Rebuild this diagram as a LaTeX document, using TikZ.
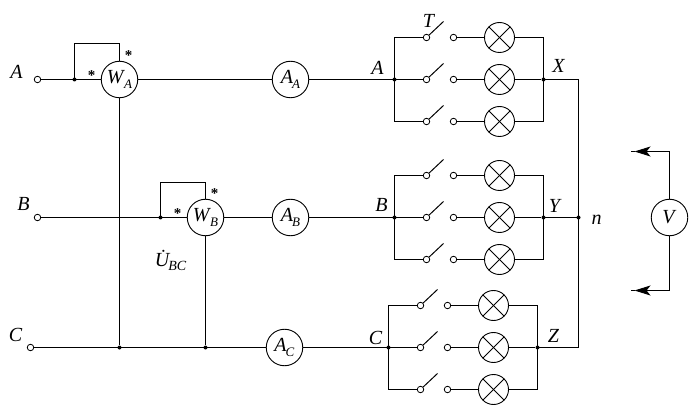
\documentclass[tikz,border=0pt]{standalone}
\usepackage{fontspec}
\setmainfont{Liberation Serif}
\usetikzlibrary{arrows.meta}

\newcommand{\subi}[2]{\textit{#1}\kern-1pt\raisebox{-4.5pt}{\fontsize{13}{13}\selectfont\textit{#2}}}

\tikzset{
  x=1pt,y=-1pt,
  wire/.style={line width=1pt},
  term/.style={circle,draw,line width=.8pt,fill=white,minimum size=6.5pt,inner sep=0pt},
  jdot/.style={circle,fill=black,minimum size=4pt,inner sep=0pt},
  meter/.style={circle,draw,line width=.9pt,minimum size=36.5pt,inner sep=0pt,font=\fontsize{20}{22}\selectfont},
  lamp/.style={circle,draw,line width=.9pt,minimum size=30pt,inner sep=0pt,
    path picture={\draw[line width=.8pt] (path picture bounding box.north west) -- (path picture bounding box.south east);
      \draw[line width=.8pt] (path picture bounding box.north east) -- (path picture bounding box.south west);}},
  lab/.style={inner sep=0pt,font=\fontsize{20}{22}\selectfont\itshape},
  star/.style={inner sep=0pt,font=\fontsize{15}{15}\selectfont\bfseries},
  vtip/.style={-{Stealth[length=16pt,width=10pt,inset=4pt]}}
}

\begin{document}
\begin{tikzpicture}[wire]
  \useasboundingbox (-.5,-.5) rectangle (696.5,416.5);
  % terminals
  \node[term] (ta) at(37,79){};
  \node[term] (tb) at(37,217){};
  \node[term] (tc) at(30,347){};
  % wattmeters and ammeters
  \node[meter] (wa) at(119,79){\subi{W}{A}};
  \node[meter] (wb) at(205,217){\subi{W}{B}};
  \node[meter] (aa) at(290,79){\subi{A}{A}};
  \node[meter] (ab) at(290,217){\subi{A}{B}};
  \node[meter] (ac) at(284,347){\subi{A}{C}};
  \node[meter] (v) at(669,217){\textit{V}};
  % junctions
  \node[jdot] (jwa) at(74,79){};
  \node[jdot] (jwb) at(160,217){};
  \node[jdot] (jc1) at(119,347){};
  \node[jdot] (jc2) at(205,347){};
  \node[jdot] (ja) at(394,79){};
  \node[jdot] (jb) at(394,217){};
  \node[jdot] (jc) at(388,347){};
  \node[jdot] (jx) at(543,79){};
  \node[jdot] (jy) at(543,217){};
  \node[jdot] (jz) at(537,347){};
  \node[jdot] (jn) at(578,217){};
  % loose points
  \coordinate (wat) at(119,43);
  \coordinate (wbt) at(205,182);
  \coordinate (vt) at(634,151);
  \coordinate (vte) at(630,151);
  \coordinate (vb) at(634,290);
  \coordinate (vbe) at(630,290);
  % phase A branches
  \node[term] (a1l) at(426,37){};
  \node[term] (a1r) at(453,37){};
  \node[lamp] (a1) at(499,37){};
  \coordinate (a1e) at(443,21);
  \node[term] (a2l) at(426,79){};
  \node[term] (a2r) at(453,79){};
  \node[lamp] (a2) at(499,79){};
  \coordinate (a2e) at(443,63);
  \node[term] (a3l) at(426,121){};
  \node[term] (a3r) at(453,121){};
  \node[lamp] (a3) at(499,121){};
  \coordinate (a3e) at(443,105);
  % phase B branches
  \node[term] (b1l) at(426,175){};
  \node[term] (b1r) at(453,175){};
  \node[lamp] (b1) at(499,175){};
  \coordinate (b1e) at(443,159);
  \node[term] (b2l) at(426,217){};
  \node[term] (b2r) at(453,217){};
  \node[lamp] (b2) at(499,217){};
  \coordinate (b2e) at(443,201);
  \node[term] (b3l) at(426,259){};
  \node[term] (b3r) at(453,259){};
  \node[lamp] (b3) at(499,259){};
  \coordinate (b3e) at(443,243);
  % phase C branches
  \node[term] (c1l) at(420,305){};
  \node[term] (c1r) at(447,305){};
  \node[lamp] (c1) at(493,305){};
  \coordinate (c1e) at(437,289);
  \node[term] (c2l) at(420,347){};
  \node[term] (c2r) at(447,347){};
  \node[lamp] (c2) at(493,347){};
  \coordinate (c2e) at(437,331);
  \node[term] (c3l) at(420,389){};
  \node[term] (c3r) at(447,389){};
  \node[lamp] (c3) at(493,389){};
  \coordinate (c3e) at(437,373);
  % mains
  \draw (ta) -- (jwa.center) -- (wa) -- (aa) -- (ja.center) -- (a2l);
  \draw (tb) -- (jwb.center) -- (wb) -- (ab) -- (jb.center) -- (b2l);
  \draw (tc) -- (jc1.center) -- (jc2.center) -- (ac) -- (jc.center) -- (c2l);
  % wattmeter leads
  \draw (jwa.center) |- (wat) -- (wa);
  \draw (jwb.center) |- (wbt) -- (wb);
  \draw (wa) -- (jc1);
  \draw (wb) -- (jc2);
  % phase A wiring
  \draw (ja.center) |- (a1l);
  \draw (ja.center) |- (a3l);
  \draw (a1l) -- (a1e);
  \draw (a2l) -- (a2e);
  \draw (a3l) -- (a3e);
  \draw (a1r) -- (a1);
  \draw (a2r) -- (a2);
  \draw (a3r) -- (a3);
  \draw (a1) -| (jx.center);
  \draw (a2) -- (jx);
  \draw (a3) -| (jx.center);
  % phase B wiring
  \draw (jb.center) |- (b1l);
  \draw (jb.center) |- (b3l);
  \draw (b1l) -- (b1e);
  \draw (b2l) -- (b2e);
  \draw (b3l) -- (b3e);
  \draw (b1r) -- (b1);
  \draw (b2r) -- (b2);
  \draw (b3r) -- (b3);
  \draw (b1) -| (jy.center);
  \draw (b2) -- (jy);
  \draw (b3) -| (jy.center);
  % phase C wiring
  \draw (jc.center) |- (c1l);
  \draw (jc.center) |- (c3l);
  \draw (c1l) -- (c1e);
  \draw (c2l) -- (c2e);
  \draw (c3l) -- (c3e);
  \draw (c1r) -- (c1);
  \draw (c2r) -- (c2);
  \draw (c3r) -- (c3);
  \draw (c1) -| (jz.center);
  \draw (c2) -- (jz);
  \draw (c3) -| (jz.center);
  % neutral
  \draw (jx.center) -| (jn.center);
  \draw (jy.center) -- (jn.center);
  \draw (jz.center) -| (jn.center);
  % voltmeter
  \draw[vtip] (v) |- (vt);
  \draw (vt) -- (vte);
  \draw[vtip] (v) |- (vb);
  \draw (vb) -- (vbe);
  % labels
  \node[lab] (la) at(16,71){A};
  \node[lab] (lb) at(23,203){B};
  \node[lab] (lc) at(15,334){C};
  \node[lab] (lt) at(428,20){T};
  \node[lab] (lpa) at(377,67){A};
  \node[lab] (lpb) at(381,204){B};
  \node[lab] (lpc) at(375,337){C};
  \node[lab] (lx) at(558,65){X};
  \node[lab] (ly) at(554,205){Y};
  \node[lab] (lz) at(553,335){Z};
  \node[lab] (ln) at(596,219){n};
  \node[lab] (lu) at(170,260){\.{U}\kern-1pt\raisebox{-4.5pt}{\fontsize{14}{14}\selectfont\itshape BC}};
  % polarity marks
  \node[star] (s1) at(128,55){*};
  \node[star] (s2) at(91,75){*};
  \node[star] (s3) at(214,193){*};
  \node[star] (s4) at(177,213){*};
\end{tikzpicture}
\end{document}
